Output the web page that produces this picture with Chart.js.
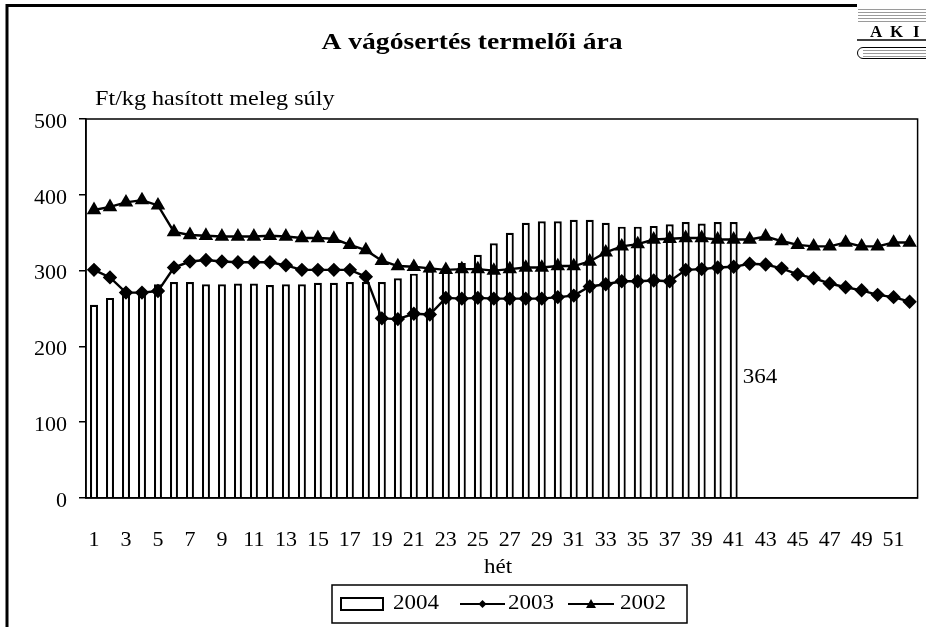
<!DOCTYPE html>
<html>
<head>
<meta charset="utf-8">
<script src="https://cdn.jsdelivr.net/npm/chart.js@4.4.1/dist/chart.umd.min.js"></script>
<style>
  html, body { margin: 0; padding: 0; background: #fff; }
  #wrap { width: 926px; height: 627px; position: relative; }
</style>
</head>
<body>
<div id="wrap"><canvas id="grafikon" width="926" height="627"></canvas></div>
<script>
// hetek 1..52
const hetek = [];
for (let i = 1; i <= 52; i++) hetek.push(String(i));

// 2004 - oszlopok (csak 41 hét)
const ar2004 = [255, 264, 271, 272, 282, 285, 285, 282, 282, 283,
                283, 281, 282, 282, 284, 284, 285, 285, 285, 290,
                296, 300, 303, 310, 321, 336, 350, 363, 365, 365,
                367, 367, 363, 358, 358, 359, 361, 364, 362, 364,
                364];

// 2003 - rombusz
const ar2003 = [301, 291, 271, 271, 273, 304, 312, 314, 312, 311,
                311, 311, 307, 301, 301, 301, 301, 292, 237, 236,
                243, 242, 264, 263, 264, 263, 263, 263, 263, 265,
                267, 279, 282, 286, 286, 287, 286, 301, 302, 304,
                305, 309, 308, 303, 295, 290, 283, 278, 274, 268,
                265, 259];

// 2002 - háromszög
const ar2002 = [380, 384, 390, 393, 386, 351, 347, 346, 345, 345,
                345, 346, 345, 343, 343, 342, 334, 327, 313, 306,
                305, 303, 301, 302, 302, 300, 302, 304, 304, 306,
                306, 312, 324, 332, 335, 341, 342, 343, 343, 341,
                341, 341, 345, 339, 334, 332, 332, 337, 332, 332,
                337, 337];

const yTicks = [0, 100, 200, 300, 400, 500];

const cim = 'A vágósertés termelői ára';
const yCim = 'Ft/kg hasított meleg súly';
const xCim = 'hét';
const utolsoErtek = '364';

const betu = '"Liberation Serif", "Times New Roman", serif';

// szöveg kicsit szélesítve (az eredeti ábra vízszintesen nyújtott)
function szoveg(ctx, txt, x, y, align) {
    const nyujt = 1.15;
    ctx.save();
    ctx.textAlign = align || 'left';
    ctx.translate(x, y);
    ctx.scale(nyujt, 1);
    ctx.fillText(txt, 0, 0);
    ctx.restore();
}

// keret, logó, feliratok, jelmagyarázat
const rajzPlugin = {
    id: 'rajz',
    afterDraw(chart) {
        const ctx = chart.ctx;
        const area = chart.chartArea;
        ctx.save();

        // plot terület kerete
        ctx.strokeStyle = '#000';
        ctx.lineWidth = 1.5;
        ctx.strokeRect(area.left, area.top, area.right - area.left, area.bottom - area.top);

        // külső keret (bal + felső)
        ctx.lineWidth = 3;
        ctx.beginPath();
        ctx.moveTo(7, 627);
        ctx.lineTo(7, 5.5);
        ctx.lineTo(857, 5.5);
        ctx.stroke();

        // AKI logó
        ctx.strokeStyle = '#9a9a9a';
        ctx.lineWidth = 1;
        for (let y = 9; y <= 21; y += 3) {
            ctx.beginPath();
            ctx.moveTo(858, y + 0.5);
            ctx.lineTo(926, y + 0.5);
            ctx.stroke();
        }
        ctx.fillStyle = '#000';
        ctx.font = 'bold 17px ' + betu;
        ctx.textAlign = 'left';
        ctx.textBaseline = 'alphabetic';
        ctx.fillText('A', 870, 37);
        ctx.fillText('K', 890, 37);
        ctx.fillText('I', 913, 37);
        ctx.strokeStyle = '#000';
        ctx.lineWidth = 1.5;
        ctx.beginPath();
        ctx.moveTo(857, 40);
        ctx.lineTo(926, 40);
        ctx.stroke();
        ctx.strokeStyle = '#9a9a9a';
        ctx.lineWidth = 1;
        for (let y = 50; y <= 56; y += 3) {
            ctx.beginPath();
            ctx.moveTo(863, y + 0.5);
            ctx.lineTo(926, y + 0.5);
            ctx.stroke();
        }
        ctx.strokeStyle = '#000';
        ctx.beginPath();
        ctx.moveTo(926, 47.5);
        ctx.lineTo(863, 47.5);
        ctx.arc(863, 53, 5.5, 1.5 * Math.PI, 0.5 * Math.PI, true);
        ctx.lineTo(926, 58.5);
        ctx.stroke();

        // főcím
        ctx.fillStyle = '#000';
        ctx.font = 'bold 24px ' + betu;
        ctx.textBaseline = 'middle';
        szoveg(ctx, cim, 472, 43, 'center');

        // y tengely felirat
        ctx.font = '21px ' + betu;
        szoveg(ctx, yCim, 95, 99);

        // x tengely felirat
        ctx.font = '20px ' + betu;
        szoveg(ctx, xCim, 498, 568, 'center');

        // utolsó érték címke
        const bar = chart.getDatasetMeta(0).data[ar2004.length - 1];
        szoveg(ctx, utolsoErtek, bar.x + 9, chart.scales.y.getPixelForValue(158));

        // jelmagyarázat
        const lx = 332, ly = 585, lw = 355, lh = 38;
        ctx.lineWidth = 1.5;
        ctx.strokeRect(lx, ly, lw, lh);
        const my = ly + lh / 2;
        const ds = chart.data.datasets;
        // 2004
        ctx.lineWidth = 2;
        ctx.fillStyle = '#fff';
        ctx.fillRect(341, my - 6, 42, 12);
        ctx.strokeRect(341, my - 6, 42, 12);
        ctx.fillStyle = '#000';
        szoveg(ctx, ds[0].label, 393, my);
        // 2003
        ctx.beginPath();
        ctx.moveTo(460, my);
        ctx.lineTo(505, my);
        ctx.stroke();
        ctx.beginPath();
        ctx.moveTo(482.5, my - 4);
        ctx.lineTo(486.5, my);
        ctx.lineTo(482.5, my + 4);
        ctx.lineTo(478.5, my);
        ctx.closePath();
        ctx.fill();
        szoveg(ctx, ds[1].label, 508, my);
        // 2002
        ctx.beginPath();
        ctx.moveTo(568, my);
        ctx.lineTo(614, my);
        ctx.stroke();
        ctx.beginPath();
        ctx.moveTo(591, my - 5);
        ctx.lineTo(596, my + 4);
        ctx.lineTo(586, my + 4);
        ctx.closePath();
        ctx.fill();
        szoveg(ctx, ds[2].label, 620, my);

        ctx.restore();
    }
};

const ctx = document.getElementById('grafikon').getContext('2d');
const grafikon = new Chart(ctx, {
    data: {
        labels: hetek,
        datasets: [{
            type: 'bar',
            label: '2004',
            data: ar2004,
            backgroundColor: '#fff',
            borderColor: '#000',
            borderWidth: 2.2,
            barPercentage: 0.5,
            categoryPercentage: 1,
            order: 3
        }, {
            type: 'line',
            label: '2003',
            data: ar2003,
            borderColor: '#000',
            borderWidth: 2.4,
            pointStyle: 'rectRot',
            pointRadius: 5.5,
            pointBackgroundColor: '#000',
            pointBorderColor: '#000',
            tension: 0,
            order: 2
        }, {
            type: 'line',
            label: '2002',
            data: ar2002,
            borderColor: '#000',
            borderWidth: 2.4,
            pointStyle: 'triangle',
            pointRadius: 6,
            pointBackgroundColor: '#000',
            pointBorderColor: '#000',
            tension: 0,
            order: 1
        }]
    },
    options: {
        responsive: false,
        animation: false,
        devicePixelRatio: 1,
        layout: {
            padding: { left: 0, right: 8, top: 119, bottom: 69 }
        },
        plugins: {
            legend: { display: false },
            tooltip: { enabled: false },
            title: { display: false }
        },
        scales: {
            x: {
                grid: { display: false, drawTicks: false },
                border: { color: '#000', width: 1.5 },
                ticks: {
                    autoSkip: false,
                    maxRotation: 0,
                    color: '#000',
                    font: { family: betu, size: 22 },
                    padding: 29,
                    callback: function (v, i) {
                        return i % 2 === 0 ? this.getLabelForValue(v) : '';
                    }
                },
                afterFit: function (scale) {
                    scale.height = 60;
                    scale.paddingLeft = 0;
                    scale.paddingRight = 0;
                }
            },
            y: {
                min: 0,
                max: 500,
                afterBuildTicks: function (scale) {
                    scale.ticks = yTicks.map(v => ({ value: v }));
                },
                grid: {
                    drawOnChartArea: false,
                    drawTicks: true,
                    tickLength: 7,
                    color: '#000',
                    lineWidth: 1.5
                },
                border: { color: '#000', width: 1.5 },
                ticks: {
                    color: '#000',
                    font: { family: betu, size: 22 },
                    padding: 12,
                    labelOffset: 3
                },
                afterFit: function (scale) {
                    scale.width = 86;
                    scale.paddingTop = 0;
                    scale.paddingBottom = 0;
                }
            }
        }
    },
    plugins: [rajzPlugin]
});
</script>
</body>
</html>
